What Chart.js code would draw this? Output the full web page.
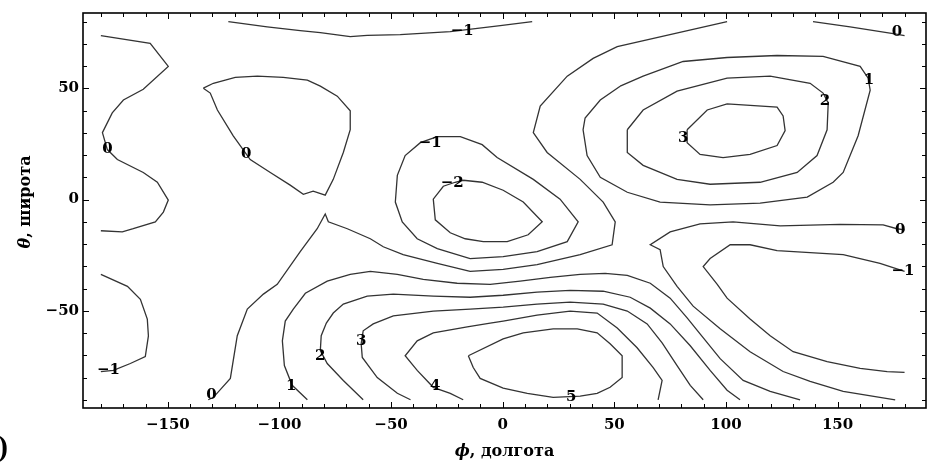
<!DOCTYPE html>
<html>
<head>
<meta charset="utf-8">
<script src="https://cdn.jsdelivr.net/npm/chart.js@4.4.1/dist/chart.umd.min.js"></script>
<style>
  html, body { margin: 0; padding: 0; background: #fff; }
  #wrap { width: 934px; height: 468px; position: relative; }
</style>
</head>
<body>
<div id="wrap"><canvas id="chart"></canvas></div>
<script>
// axis ticks (degrees)
const lonTicks = [-150, -100, -50, 0, 50, 100, 150];
const latTicks = [-50, 0, 50];

// contour polylines as [longitude, latitude]
const zeroWest = [[-180,73.7],[-157.9,70.2],[-149.8,59.9],[-161,49.6],[-169.9,44.8],[-174.9,39],[-179.3,30.1],[-177.1,22.5],[-172.6,18],[-161,12.2],[-154.7,7.8],[-149.8,-0.2],[-152,-5.6],[-155.6,-10],[-165.5,-13.1],[-170.4,-14.5],[-180,-14]];
const minusOneWest = [[-180,-33.6],[-168.1,-39],[-162.3,-44.8],[-159.2,-53.7],[-158.7,-61.3],[-160.1,-70.6],[-166.8,-73.7],[-174.4,-76.8],[-180,-77.3]];
const zeroLoop = [[-134.1,50.1],[-129.6,52.3],[-119.8,55],[-109.9,55.5],[-98.3,55],[-87.5,53.7],[-81.7,51],[-74.1,46.5],[-68.3,39.9],[-68.3,31.4],[-71.4,21.2],[-75.9,9.1],[-79.5,2],[-84.9,3.8],[-89.3,2.4],[-95.2,6.5],[-104.1,12.2],[-113.1,18],[-120.7,28.7],[-127.8,40.3],[-131,47.9],[-134.1,50.1]];
const minusOneTop = [[-122.9,80],[-105.5,77.7],[-90.7,76],[-81.7,75.1],[-68.3,73.3],[-60.7,73.8],[-45.9,74.2],[-23.5,75.5],[-1.1,78.2],[13.2,80]];
const zeroNorthEast = [[139,80],[155.6,77.7],[174.9,74.6],[180,73.7]];
const minusOneLoop = [[-29.3,28.3],[-19,28.3],[-9.2,24.7],[-2.5,18.9],[13.7,9.1],[25.7,0.2],[33.8,-10],[28.9,-18.9],[15.4,-23.4],[0.2,-25.6],[-14.6,-26.5],[-29.3,-22],[-38.3,-17.6],[-45,-10],[-48.1,-1.1],[-47.2,10.9],[-43.7,19.8],[-36.9,25.6],[-29.3,28.3]];
const minusTwoLoop = [[-17.7,8.7],[-9.2,7.8],[0.2,4.2],[9.2,-1.1],[17.7,-10],[11.4,-15.8],[2,-18.9],[-8.7,-18.9],[-16.8,-17.6],[-23.5,-14.9],[-30.2,-9.1],[-31.1,0.2],[-26.6,6],[-21.3,7.8],[-17.7,8.7]];
const zeroMain = [[100.5,80],[51.3,68.8],[40.5,63.5],[28.9,55.5],[16.8,42.1],[13.7,30.1],[19.9,21.2],[34.7,9.1],[45,-1.1],[50.4,-10],[49,-20.3],[34.7,-24.7],[15.4,-29.2],[0.2,-31.4],[-14.6,-32.3],[-29.3,-28.7],[-44.6,-24.7],[-53.5,-21.2],[-59.3,-17.6],[-69.6,-13.1],[-78.1,-10],[-79.5,-6.5],[-83.1,-13.1],[-90.7,-23.4],[-101,-38.1],[-107.2,-42.5],[-114.4,-49.2],[-118.9,-61.2],[-122,-80.4],[-129.6,-88.9],[-131.9,-90]];
const oneNorth = [[52.6,51],[43.7,44.8],[36.9,36.7],[36,31.4],[37.8,19.8],[43.7,10],[55.8,3.3],[70.5,-1.1],[92.9,-2.4],[115.3,-1.6],[136.4,1.1],[148,7.8],[152.5,12.2],[159.2,28.7],[164.6,49.2],[163.7,54.6],[160.1,59.9],[143.5,64.4],[122.9,64.8],[100.5,63.9],[80.8,62.1],[62.9,55.5],[52.6,51]];
const twoNorth = [[55.8,31.4],[55.8,21.2],[62.9,15.4],[78.1,9.1],[92.9,6.9],[115.3,7.8],[131.9,12.2],[140.8,19.8],[145.3,31.4],[145.8,43.4],[143.5,47.9],[137.7,52.3],[119.8,55.5],[100.5,54.6],[78.1,48.8],[62.9,40.3],[55.8,31.4]];
const threeNorth = [[82.6,31.4],[91.6,40.3],[100.5,43],[122.9,41.6],[125.6,37.6],[126.5,31],[122.9,24.3],[110.8,20.3],[98.7,18.9],[88.4,20.3],[82.6,25.6],[82.6,31.4]];
const zeroEast = [[180,-13.6],[176.6,-13.1],[170.4,-11.4],[151.1,-11.1],[124.3,-11.8],[103.2,-10],[88.4,-10.9],[75,-14.5],[66.1,-20.3],[70.5,-22.5],[71.9,-30.1],[78.1,-39],[85.3,-47.9],[97.4,-58.1],[110.8,-68.4],[125.6,-77.3],[137.7,-81.7],[152.5,-86.2],[175.8,-90]];
const minusOneEast = [[180,-32.3],[169,-28.7],[152.5,-24.7],[122.9,-22.9],[110.8,-20.3],[101.9,-20.3],[92.9,-26.5],[89.8,-30.1],[96.1,-38.1],[100.5,-44.3],[110.8,-53.7],[119.8,-61.2],[130.1,-68.4],[145.3,-72.8],[160.1,-75.9],[172.2,-77.3],[180,-77.7]];
const oneSouth = [[-87.5,-90],[-94.3,-83.5],[-97.8,-74.6],[-98.7,-63.5],[-97.4,-54.6],[-93.8,-49.2],[-88.4,-42.1],[-78.6,-36.7],[-68.3,-33.6],[-59.3,-32.3],[-47.2,-33.6],[-35.6,-35.9],[-20.4,-37.6],[-5.6,-38.1],[7.8,-36.7],[21.3,-35],[34.7,-33.6],[45.9,-33.2],[55.8,-34.1],[66.1,-37.6],[75,-44.3],[82.6,-53.2],[88.4,-60.4],[97.4,-71.5],[107.7,-81.3],[119.8,-86.2],[133.2,-90]];
const twoSouth = [[-62.5,-90],[-71.4,-81.3],[-78.6,-73.7],[-81.7,-67.9],[-81.3,-61.2],[-79,-55.5],[-75.9,-51],[-71.4,-47],[-60.7,-43.4],[-49,-42.5],[-31.1,-43.4],[-14.6,-43.9],[0.2,-43],[15.4,-41.6],[30.2,-40.8],[45,-41.2],[57.1,-43.9],[66.1,-48.8],[75,-55.9],[84,-65.7],[92.9,-76.8],[100.5,-85.7],[106.3,-90]];
const threeSouth = [[-41.3,-90],[-47.2,-87.1],[-56.2,-80],[-62.9,-71],[-63.4,-64.8],[-62.5,-59],[-58,-55.9],[-49,-52.3],[-31.1,-50.1],[-14.6,-49.2],[0.2,-48.3],[15.4,-47],[30.2,-46.1],[45,-47],[55.8,-50.1],[64.7,-55.9],[71.4,-64.4],[78.1,-74.6],[84,-83.5],[89.8,-90]];
const fourSouth = [[-17.7,-90],[-23.5,-87.1],[-31.1,-84.4],[-38.3,-76.8],[-43.7,-70.2],[-38.3,-63.5],[-31.1,-59.9],[-15.9,-57.2],[-5.6,-55.5],[0.2,-54.6],[15.4,-51.9],[30.2,-50.1],[42.3,-51],[51.3,-57.7],[60.2,-66.6],[67.4,-75.5],[71.4,-81.3],[69.6,-90]];
const fiveLoop = [[-15.4,-70.2],[0.2,-62.6],[9.2,-59.9],[22.6,-58.1],[33.4,-58.1],[42.3,-59.9],[48.1,-64.8],[53.5,-70.2],[53.5,-80],[48.1,-84.4],[42.3,-87.1],[34.7,-88.4],[22.6,-88.9],[11,-87.1],[0.2,-84.8],[-10.1,-80.4],[-13.2,-75.5],[-15.4,-70.2]];

// level labels: [level, longitude, latitude]
const levelLabels = [
  [0,-177,22.5],[0,-114.9,20.3],[-1,-176.6,-76.8],[-1,-18.1,75.9],[0,176.6,75.1],
  [-1,-32.5,25.6],[-2,-22.6,7.3],[1,164.1,53.7],[2,144.4,44.3],[3,80.8,27.8],
  [0,178,-13.6],[-1,179.3,-32.3],[0,-130.5,-87.7],[1,-94.7,-83.9],[2,-81.7,-70.2],
  [3,-63.4,-63.5],[4,-30.2,-84],[5,30.7,-88.9]
];

const contours = [zeroWest, minusOneWest, zeroLoop, minusOneTop, zeroNorthEast, minusOneLoop,
  minusTwoLoop, zeroMain, oneNorth, twoNorth, threeNorth, zeroEast, minusOneEast,
  oneSouth, twoSouth, threeSouth, fourSouth, fiveLoop];

const fmt = v => (v < 0 ? '\u2212' + Math.abs(v) : String(v));
const tickFont = { family: 'DejaVu Serif', size: 15, weight: 'bold' };

// inward ticks on all four sides plus the frame
const frameTicks = {
  id: 'frameTicks',
  afterDatasetsDraw(chart) {
    const { ctx, chartArea: a, scales: { x, y } } = chart;
    ctx.save();
    ctx.strokeStyle = '#000';
    ctx.lineWidth = 1;
    ctx.beginPath();
    for (let v = -180; v <= 180; v += 10) {
      const px = Math.round(x.getPixelForValue(v)) + 0.5;
      const len = v % 50 === 0 ? 6 : 4;
      ctx.moveTo(px, a.bottom); ctx.lineTo(px, a.bottom - len);
      ctx.moveTo(px, a.top); ctx.lineTo(px, a.top + len);
    }
    for (let v = -90; v <= 80; v += 10) {
      const py = Math.round(y.getPixelForValue(v)) + 0.5;
      const len = v % 50 === 0 ? 6 : 4;
      ctx.moveTo(a.left, py); ctx.lineTo(a.left + len, py);
      ctx.moveTo(a.right, py); ctx.lineTo(a.right - len, py);
    }
    ctx.stroke();
    ctx.lineWidth = 1.6;
    ctx.strokeRect(a.left, a.top, a.right - a.left, a.bottom - a.top);
    ctx.restore();
  }
};

// contour level numbers
const labelPlugin = {
  id: 'labelPlugin',
  afterDatasetsDraw(chart) {
    const { ctx, scales: { x, y } } = chart;
    ctx.save();
    ctx.font = 'bold 15px "DejaVu Serif"';
    ctx.fillStyle = '#000';
    ctx.textAlign = 'center';
    ctx.textBaseline = 'middle';
    levelLabels.forEach(([lev, lon, lat]) => {
      ctx.fillText(fmt(lev), x.getPixelForValue(lon), y.getPixelForValue(lat));
    });
    ctx.restore();
  }
};

// axis titles with italic greek letters
function mixedText(ctx, parts, cx, cy) {
  let total = 0;
  parts.forEach(p => { ctx.font = p.font; total += ctx.measureText(p.text).width; });
  let pos = cx - total / 2;
  parts.forEach(p => {
    ctx.font = p.font;
    ctx.fillText(p.text, pos, cy);
    pos += ctx.measureText(p.text).width;
  });
}
const titles = {
  id: 'titles',
  afterDraw(chart) {
    const { ctx, chartArea: a } = chart;
    const it = 'italic bold 16px "DejaVu Serif"';
    const bd = 'bold 16px "DejaVu Serif"';
    ctx.save();
    ctx.fillStyle = '#000';
    ctx.textAlign = 'left';
    ctx.textBaseline = 'middle';
    mixedText(ctx, [{ text: '\u03d5', font: it }, { text: ', долгота', font: bd }], (a.left + a.right) / 2, 452);
    ctx.translate(26, 202);
    ctx.rotate(-Math.PI / 2);
    mixedText(ctx, [{ text: '\u03b8', font: it }, { text: ', широта', font: bd }], 0, 0);
    ctx.restore();
    ctx.save();
    ctx.font = 'bold 30px "Liberation Serif"';
    ctx.textAlign = 'right';
    ctx.textBaseline = 'alphabetic';
    ctx.fillStyle = '#000';
    ctx.fillText(')', 8, 456);
    ctx.restore();
  }
};

new Chart(document.getElementById('chart'), {
  type: 'scatter',
  data: {
    datasets: contours.map(c => ({
      data: c.map(([lon, lat]) => ({ x: lon, y: lat })),
      showLine: true,
      borderColor: '#333',
      borderWidth: 1.3,
      pointRadius: 0,
      tension: 0,
      fill: false
    }))
  },
  options: {
    responsive: true,
    maintainAspectRatio: false,
    animation: false,
    events: [],
    layout: { padding: { top: 9, right: 8, left: 0, bottom: 0 } },
    plugins: { legend: { display: false }, tooltip: { enabled: false } },
    scales: {
      x: {
        type: 'linear',
        min: -188,
        max: 189.6,
        afterBuildTicks: s => { s.ticks = lonTicks.map(v => ({ value: v })); },
        afterFit: s => { s.height = 60; },
        grid: { display: false, drawTicks: false },
        border: { display: false },
        ticks: { color: '#000', font: tickFont, padding: 8, maxRotation: 0, callback: v => fmt(v) }
      },
      y: {
        type: 'linear',
        min: -93.7,
        max: 83.9,
        afterBuildTicks: s => { s.ticks = latTicks.map(v => ({ value: v })); },
        afterFit: s => { s.width = 83; },
        grid: { display: false, drawTicks: false },
        border: { display: false },
        ticks: { color: '#000', font: tickFont, padding: 4, callback: v => fmt(v) }
      }
    }
  },
  plugins: [frameTicks, labelPlugin, titles]
});
</script>
</body>
</html>
